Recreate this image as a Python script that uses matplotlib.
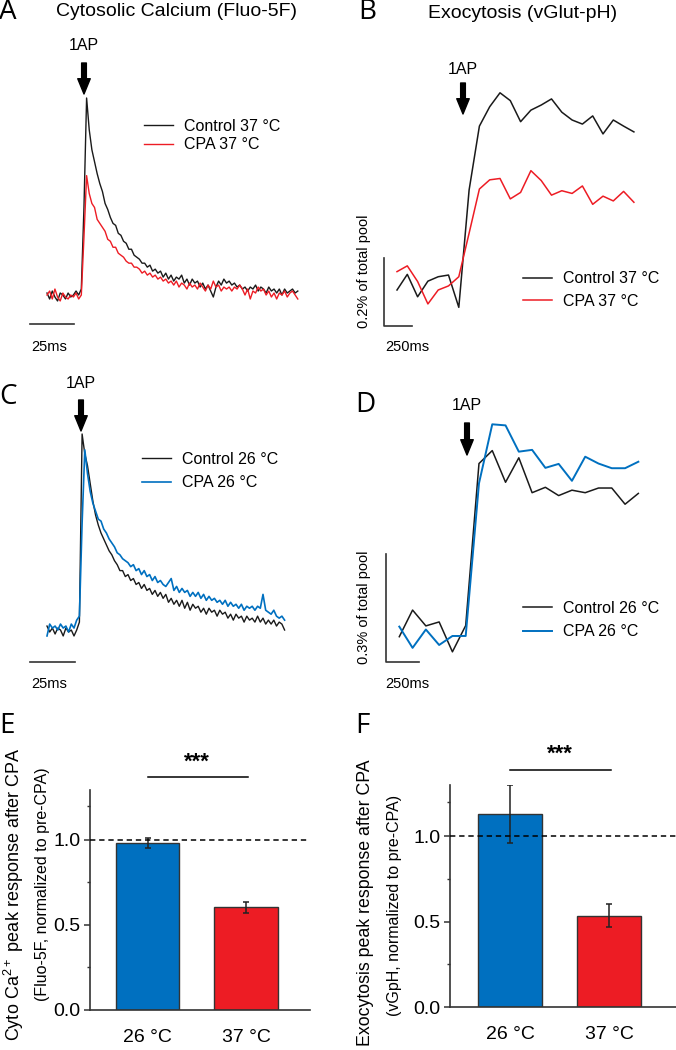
import matplotlib
matplotlib.use("Agg")
import matplotlib.pyplot as plt
import numpy as np
from matplotlib.transforms import Affine2D

plt.rcParams['font.family'] = ['Liberation Sans', 'DejaVu Sans']
plt.rcParams['mathtext.default'] = 'regular'

# ---- data -------------------------------------------------------------
# cytosolic calcium (Fluo-5F), normalised dF, sampled every 1.5 ms
ca_dt = 1.5
ctrl37_ca = [0.02, -0.01, 0.03, 0.00, -0.02, 0.02, 0.01, -0.01, 0.02, 0.00, 0.01, 0.03, 0.01, 0.04,
             0.45, 1.00, 0.84, 0.74, 0.68, 0.62, 0.57, 0.53, 0.47, 0.44, 0.40, 0.37, 0.36, 0.32,
             0.31, 0.28, 0.27, 0.24, 0.24, 0.21, 0.20, 0.19, 0.17, 0.17, 0.15, 0.16, 0.13, 0.14,
             0.12, 0.13, 0.10, 0.12, 0.09, 0.11, 0.08, 0.10, 0.09, 0.11, 0.07, 0.09, 0.06, 0.09,
             0.07, 0.08, 0.05, 0.07, 0.04, 0.06, 0.03, 0.00, 0.05, 0.08, 0.06, 0.09, 0.07, 0.08,
             0.06, 0.07, 0.05, 0.06, 0.04, 0.05, 0.03, 0.05, 0.04, 0.06, 0.03, 0.05, 0.04, 0.02,
             0.05, 0.03, 0.04, 0.02, 0.04, 0.01, 0.04, 0.02, 0.03, 0.04, 0.02, 0.03]
cpa37_ca = [0.01, 0.03, -0.01, 0.04, 0.00, -0.02, 0.02, 0.00, -0.01, 0.01, 0.00, 0.02, -0.01, 0.01,
            0.30, 0.61, 0.52, 0.47, 0.45, 0.39, 0.37, 0.35, 0.33, 0.29, 0.28, 0.25, 0.25, 0.22,
            0.21, 0.20, 0.18, 0.17, 0.17, 0.15, 0.15, 0.14, 0.12, 0.13, 0.11, 0.12, 0.10, 0.11,
            0.09, 0.10, 0.08, 0.09, 0.07, 0.08, 0.06, 0.08, 0.05, 0.07, 0.06, 0.04, 0.07, 0.05,
            0.06, 0.04, 0.07, 0.05, 0.03, 0.06, 0.04, 0.08, 0.05, 0.06, 0.03, 0.05, 0.04, 0.05,
            0.03, 0.05, 0.04, 0.06, 0.04, 0.01, 0.04, -0.01, 0.03, 0.02, 0.05, 0.03, 0.04, 0.01,
            0.03, 0.00, 0.02, -0.01, 0.02, 0.01, 0.03, 0.00, 0.02, 0.03, 0.01, -0.01]
ctrl26_ca = [0.03, 0.00, 0.02, -0.01, 0.02, 0.01, -0.02, 0.02, 0.00, 0.01, -0.02, 0.01, 0.05,
             1.00, 0.90, 0.84, 0.75, 0.66, 0.59, 0.54, 0.50, 0.47, 0.44, 0.41, 0.39, 0.36, 0.34,
             0.31, 0.31, 0.28, 0.29, 0.26, 0.27, 0.24, 0.25, 0.22, 0.24, 0.21, 0.22, 0.19, 0.21,
             0.18, 0.20, 0.17, 0.19, 0.15, 0.17, 0.14, 0.16, 0.13, 0.16, 0.12, 0.15, 0.11, 0.14,
             0.12, 0.13, 0.10, 0.12, 0.09, 0.12, 0.10, 0.11, 0.08, 0.11, 0.09, 0.10, 0.07, 0.09,
             0.06, 0.09, 0.07, 0.08, 0.05, 0.08, 0.06, 0.07, 0.05, 0.08, 0.05, 0.07, 0.04, 0.06,
             0.04, 0.06, 0.03, 0.05, 0.04, 0.01]
cpa26_ca = [-0.02, 0.04, 0.02, 0.03, 0.01, 0.04, 0.02, 0.03, 0.00, 0.04, 0.02, 0.06, 0.08,
            0.55, 0.92, 0.80, 0.71, 0.65, 0.61, 0.57, 0.56, 0.52, 0.50, 0.47, 0.45, 0.43, 0.40,
            0.39, 0.37, 0.36, 0.35, 0.33, 0.34, 0.31, 0.32, 0.29, 0.31, 0.28, 0.29, 0.26, 0.28,
            0.25, 0.26, 0.24, 0.23, 0.25, 0.27, 0.21, 0.23, 0.20, 0.22, 0.20, 0.21, 0.18, 0.20,
            0.18, 0.20, 0.17, 0.19, 0.16, 0.18, 0.16, 0.17, 0.15, 0.16, 0.14, 0.16, 0.13, 0.15,
            0.13, 0.14, 0.12, 0.14, 0.11, 0.13, 0.12, 0.13, 0.11, 0.13, 0.12, 0.19, 0.11, 0.10,
            0.09, 0.11, 0.08, 0.07, 0.08, 0.06]

# exocytosis (vGlut-pH), % of total pool, one value per frame
b_frame_ms = 92
ctrl37_exo = [0.000, 0.046, -0.020, 0.026, 0.039, 0.044, -0.051, 0.294, 0.482, 0.539, 0.580, 0.557,
              0.495, 0.529, 0.544, 0.562, 0.523, 0.500, 0.488, 0.512, 0.459, 0.500, 0.482, 0.465]
cpa37_exo = [0.054, 0.071, 0.025, -0.041, 0.000, 0.012, 0.039, 0.167, 0.297, 0.324, 0.328, 0.268,
             0.287, 0.351, 0.322, 0.279, 0.292, 0.284, 0.306, 0.252, 0.276, 0.262, 0.290, 0.258]
d_frame_ms = 100
ctrl26_exo = [0.000, 0.074, 0.030, 0.041, -0.042, 0.031, 0.481, 0.517, 0.429, 0.497, 0.400, 0.415,
              0.392, 0.407, 0.400, 0.413, 0.413, 0.368, 0.398]
cpa26_exo = [0.028, -0.031, 0.020, -0.023, 0.002, 0.002, 0.426, 0.590, 0.587, 0.514, 0.519, 0.469,
             0.480, 0.433, 0.500, 0.481, 0.468, 0.468, 0.486]

# summary bars
temps = ['26 °C', '37 °C']
ca_peak = [0.98, 0.605]
ca_sem = [0.03, 0.033]
exo_peak = [1.13, 0.535]
exo_sem = [0.17, 0.068]

BLUE = '#0070C0'
RED = '#ED1C24'
DARK = '#1a1a1a'

# ---- figure -----------------------------------------------------------
W, H = 676, 1050
fig = plt.figure(figsize=(W / 100, H / 100), dpi=100)
pix = Affine2D().scale(1 / W, -1 / H).translate(0, 1) + fig.transFigure


def add_ax(box):
    x0, y0, x1, y1 = box
    return fig.add_axes([x0 / W, 1 - y1 / H, (x1 - x0) / W, (y1 - y0) / H])


def set_scale(ax, box, xo, xs, yo, ys):
    x0, y0, x1, y1 = box
    ax.set_xlim((x0 - xo) / xs, (x1 - xo) / xs)
    ax.set_ylim((yo - y1) / ys, (yo - y0) / ys)
    ax.axis('off')


def arrow(x, y0, y1, label, ly):
    fig.text(x, ly, label, transform=pix, ha='center', va='center', fontsize=11.5)
    ax_ann = fig.axes[-1]
    ax_ann.annotate('', xy=(x, y1), xytext=(x, y0), xycoords=pix, textcoords=pix,
                    arrowprops=dict(facecolor='black', edgecolor='black', width=3.4,
                                    headwidth=9, headlength=11), annotation_clip=False)


def legend(ax, handles, x, y, spacing):
    ax.legend(handles=handles, loc='center left', bbox_to_anchor=(x / W, 1 - y / H),
              bbox_transform=fig.transFigure, frameon=False, fontsize=11.5,
              borderpad=0, borderaxespad=0, handlelength=1.8, handletextpad=0.7,
              labelspacing=spacing)


# panel A
boxA = (20, 40, 320, 360)
axA = add_ax(boxA)
tA = np.arange(len(ctrl37_ca)) * ca_dt
hA1, = axA.plot(tA, ctrl37_ca, color=DARK, lw=1.0, label='Control 37 °C')
hA2, = axA.plot(tA, cpa37_ca, color=RED, lw=1.0, label='CPA 37 °C')
set_scale(axA, boxA, 47, 1.76, 297, 199)
axA.plot([-9.66, 15.34], [-0.136, -0.136], color='#333333', lw=1.2, clip_on=False)
legend(axA, [hA1, hA2], 144, 135.5, 0.2)
arrow(84, 63, 94, '1AP', 46)

# panel B
boxB = (350, 40, 676, 340)
axB = add_ax(boxB)
tB = np.arange(len(ctrl37_exo)) * b_frame_ms
hB1, = axB.plot(tB, ctrl37_exo, color=DARK, lw=1.1, label='Control 37 °C')
hB2, = axB.plot(tB, cpa37_exo, color=RED, lw=1.1, label='CPA 37 °C')
set_scale(axB, boxB, 397, 10.3 / b_frame_ms, 290, 340)
axB.plot([-116, -116, 134], [0.094, -0.106, -0.106], color='#333333', lw=1.2, clip_on=False)
legend(axB, [hB1, hB2], 523, 290, 0.45)
arrow(463, 83, 114, '1AP', 70)

# panel C
boxC = (20, 370, 320, 700)
axC = add_ax(boxC)
tC = np.arange(len(ctrl26_ca)) * ca_dt
hC1, = axC.plot(tC, ctrl26_ca, color=DARK, lw=1.0, label='Control 26 °C')
hC2, = axC.plot(tC, cpa26_ca, color=BLUE, lw=1.2, label='CPA 26 °C')
set_scale(axC, boxC, 47, 1.8, 632, 198)
axC.plot([-9.44, 15.56], [-0.152, -0.152], color='#333333', lw=1.2, clip_on=False)
legend(axC, [hC1, hC2], 142, 471, 0.55)
arrow(81, 400, 431, '1AP', 383)

# panel D
boxD = (350, 380, 676, 690)
axD = add_ax(boxD)
tD = np.arange(len(ctrl26_exo)) * d_frame_ms
hD1, = axD.plot(tD, ctrl26_exo, color=DARK, lw=1.1, label='Control 26 °C')
hD2, = axD.plot(tD, cpa26_exo, color=BLUE, lw=1.4, label='CPA 26 °C')
set_scale(axD, boxD, 399.3, 13.28 / d_frame_ms, 636.7, 360)
axD.plot([-100, -100, 150], [0.230, -0.070, -0.070], color='#333333', lw=1.2, clip_on=False)
legend(axD, [hD1, hD2], 523, 620, 0.55)
arrow(467, 423, 455, '1AP', 406)

# scale bar labels
for x, y, s in [(31, 347, '25ms'), (385, 347, '250ms'), (31, 684, '25ms'), (385, 684, '250ms')]:
    fig.text(x, y, s, transform=pix, ha='left', va='center', fontsize=10.5)
fig.text(364, 271, '0.2% of total pool', transform=pix, rotation=90,
         ha='center', va='center', fontsize=10.5)
fig.text(364, 607, '0.3% of total pool', transform=pix, rotation=90,
         ha='center', va='center', fontsize=10.5)


# bar panels
def bar_panel(box, means, sems, ylim_top, xlim, sig_y, star_y):
    ax = add_ax(box)
    x = np.arange(len(temps))
    ax.bar(x, means, width=0.645, color=[BLUE, RED], edgecolor='#333333', linewidth=1.0,
           yerr=sems, capsize=2.5, zorder=2,
           error_kw=dict(elinewidth=1.1, capthick=1.1, ecolor='#222222', zorder=3))
    ax.axhline(1.0, color='black', lw=1.1, ls=(0, (3.5, 2.5)), zorder=4)
    ax.set_ylim(0, ylim_top)
    ax.set_xlim(*xlim)
    for s in ['top', 'right']:
        ax.spines[s].set_visible(False)
    for s in ['left', 'bottom']:
        ax.spines[s].set_color('#333333')
        ax.spines[s].set_linewidth(1.2)
    ax.set_yticks([0, 0.5, 1.0])
    ax.set_yticklabels(['0.0', '0.5', '1.0'])
    ax.set_yticks([0.25, 0.75, 1.2], minor=True)
    ax.tick_params(axis='y', which='major', length=4, width=1.1, pad=3, labelsize=14,
                   color='#333333')
    ax.tick_params(axis='y', which='minor', length=2.2, width=1.0, color='#333333')
    ax.set_xticks(x)
    ax.set_xticklabels(temps)
    ax.tick_params(axis='x', length=0, pad=14, labelsize=14)
    ax.plot([0, 1.02], [sig_y, sig_y], color='black', lw=1.1, clip_on=False)
    ax.text(0.5, star_y, '***', ha='center', va='center', fontsize=16, fontweight='bold')
    return ax


bar_panel((90, 790, 310, 1010), ca_peak, ca_sem, 1.294, (-0.584, 1.65), 1.37, 1.46)
bar_panel((450, 785, 676, 1007), exo_peak, exo_sem, 1.30, (-0.606, 1.676), 1.39, 1.48)

# y labels of the bar panels
for x, y, s, size in [(14, 894, 'Cyto Ca$^{2+}$ peak response after CPA', 13),
                      (43, 884, '(Fluo-5F, normalized to pre-CPA)', 11.5),
                      (366, 903, 'Exocytosis peak response after CPA', 12.8),
                      (394, 905, '(vGpH, normalized to pre-CPA)', 11.5)]:
    fig.text(x, y, s, transform=pix, rotation=90, ha='center', va='center', fontsize=size)

# titles and panel letters
fig.text(177, 12, 'Cytosolic Calcium (Fluo-5F)', transform=pix, ha='center', va='center', fontsize=14)
fig.text(523, 13, 'Exocytosis (vGlut-pH)', transform=pix, ha='center', va='center', fontsize=14)
for x, y, s in [(8, 12, 'A'), (367, 12, 'B'), (8, 397, 'C'), (365, 405, 'D'),
                (7, 726, 'E'), (362, 726, 'F')]:
    fig.text(x, y, s, transform=pix, ha='center', va='center', fontsize=20,
             family=['Open Sans', 'DejaVu Sans'])

fig.savefig('out.png', dpi=100)
